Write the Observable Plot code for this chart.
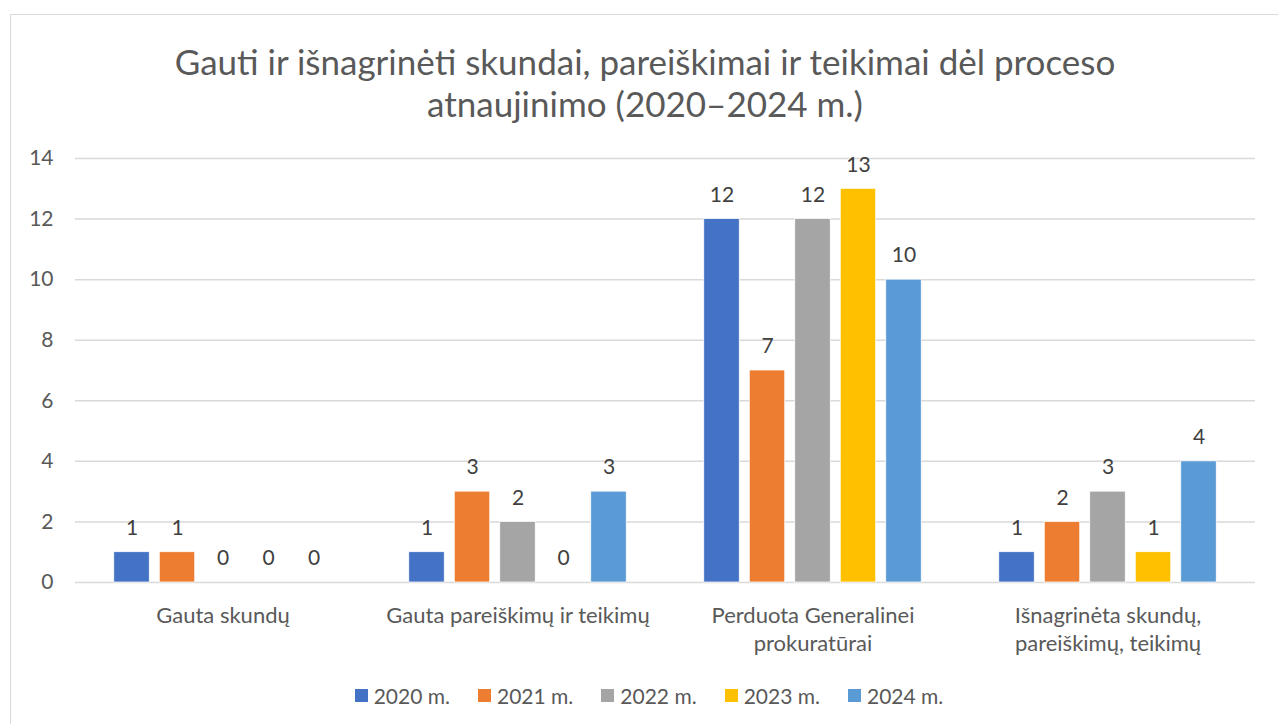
<!DOCTYPE html>
<html>
<head>
<meta charset="utf-8">
<script src="https://cdn.jsdelivr.net/npm/d3@7"></script>
<script src="https://cdn.jsdelivr.net/npm/@observablehq/plot@0.6"></script>
<style>
  html, body { margin: 0; padding: 0; background: #fff; overflow: hidden; }
  body { width: 1278px; height: 724px; position: relative; font-family: Lato, "Noto Sans", sans-serif; }
  #frame { position: absolute; left: 10px; top: 14px; width: 1400px; height: 800px; border: 1px solid #d9d9d9; box-sizing: border-box; }
  #title { position: absolute; left: 0; width: 1290px; top: 40px; text-align: center; font-size: 35px; line-height: 42px; color: #595959; }
  #chart { position: absolute; left: 0; top: 140px; }
  #legend { position: absolute; left: 0; width: 1298px; top: 681px; height: 28px; display: flex; justify-content: center; align-items: center; gap: 28px; font-size: 21px; color: #595959; }
  #legend .item { display: flex; align-items: center; }
  #legend .sw { display: inline-block; width: 13px; height: 13px; margin-right: 6px; }
</style>
</head>
<body>
<div id="frame"></div>
<div id="title">Gauti ir išnagrinėti skundai, pareiškimai ir teikimai dėl proceso<br>atnaujinimo (2020–2024 m.)</div>
<div id="chart"></div>
<div id="legend"></div>
<script>
const categories = [
  "Gauta skundų",
  "Gauta pareiškimų ir teikimų",
  "Perduota Generalinei prokuratūrai",
  "Išnagrinėta skundų, pareiškimų, teikimų"
];
const categoryLabels = [
  "Gauta skundų",
  "Gauta pareiškimų ir teikimų",
  "Perduota Generalinei\nprokuratūrai",
  "Išnagrinėta skundų,\npareiškimų, teikimų"
];
const years = ["2020 m.", "2021 m.", "2022 m.", "2023 m.", "2024 m."];
const colors = ["#4472C4", "#ED7D31", "#A5A5A5", "#FFC000", "#5B9BD5"];
const v2020 = [1, 1, 12, 1];
const v2021 = [1, 3, 7, 2];
const v2022 = [0, 2, 12, 3];
const v2023 = [0, 0, 13, 1];
const v2024 = [0, 3, 10, 4];
const yTicks = [0, 2, 4, 6, 8, 10, 12, 14];

const series = [v2020, v2021, v2022, v2023, v2024];
const data = [];
categories.forEach((c, i) => {
  years.forEach((y, j) => data.push({cat: c, year: y, value: series[j][i]}));
});
const labelOf = Object.fromEntries(categories.map((c, i) => [c, categoryLabels[i]]));

const chart = Plot.plot({
  width: 1278,
  height: 530,
  marginTop: 18,
  marginBottom: 88,
  marginLeft: 75,
  marginRight: 23,
  style: {fontFamily: "Lato, 'Noto Sans', sans-serif", fontSize: "21px", color: "#595959", background: "transparent"},
  fx: {domain: categories, padding: 0},
  x: {domain: years, paddingInner: 0.22, paddingOuter: 0.852, round: false, axis: null},
  y: {domain: [0, 14]},
  color: {domain: years, range: colors},
  marks: [
    Plot.ruleY(yTicks, {stroke: "#d9d9d9", strokeWidth: 1.5}),
    Plot.barY(data, {fx: "cat", x: "year", y: "value", fill: "year", stroke: "white", strokeWidth: 0.75}),
    Plot.text(data, {fx: "cat", x: "year", y: "value", text: d => String(d.value), dy: -24, fill: "#404040", fontSize: 21}),
    Plot.axisY({ticks: yTicks, tickSize: 0, tickPadding: 22, label: null, fontSize: 21, fill: "#595959"}),
    Plot.axisFx({anchor: "bottom", tickSize: 0, tickPadding: 20, label: null, fontSize: 22, lineHeight: 1.3, fill: "#595959", tickFormat: d => labelOf[d]})
  ]
});
document.getElementById("chart").appendChild(chart);

const legend = document.getElementById("legend");
years.forEach((y, i) => {
  const item = document.createElement("span");
  item.className = "item";
  const sw = document.createElement("span");
  sw.className = "sw";
  sw.style.background = colors[i];
  item.appendChild(sw);
  item.appendChild(document.createTextNode(y));
  legend.appendChild(item);
});
</script>
</body>
</html>
